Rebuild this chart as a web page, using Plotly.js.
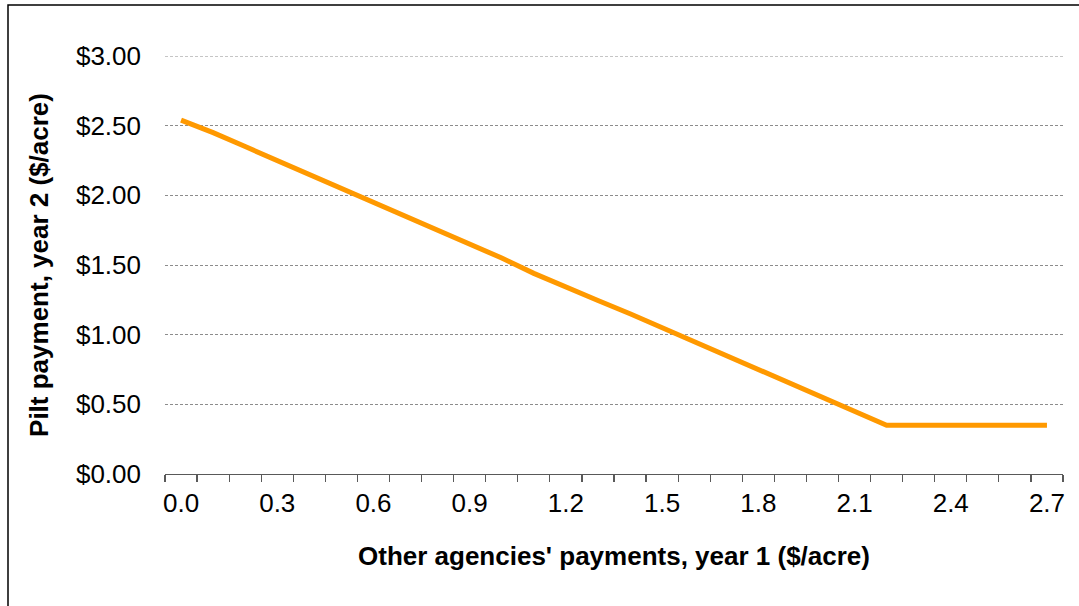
<!DOCTYPE html>
<html>
<head>
<meta charset="utf-8">
<script src="https://cdn.plot.ly/plotly-3.0.1.min.js"></script>
<style>
  html, body { margin: 0; padding: 0; background: #fff; overflow: hidden; }
  #chart { width: 1079px; height: 606px; }
</style>
</head>
<body>
<div id="chart"></div>
<script>
// Categories: other agencies' payments, year 1 ($/acre)
const otherPayments = [0.0, 0.1, 0.2, 0.3, 0.4, 0.5, 0.6, 0.7, 0.8, 0.9,
                       1.0, 1.1, 1.2, 1.3, 1.4, 1.5, 1.6, 1.7, 1.8, 1.9,
                       2.0, 2.1, 2.2, 2.3, 2.4, 2.5, 2.6, 2.7];
// Series: Pilt payment, year 2 ($/acre)
const piltPayment = [2.54, 2.45, 2.35, 2.25, 2.15, 2.05, 1.95, 1.85, 1.75, 1.65,
                     1.55, 1.44, 1.34, 1.245, 1.15, 1.05, 0.95, 0.85, 0.75, 0.65,
                     0.55, 0.45, 0.35, 0.35, 0.35, 0.35, 0.35, 0.35];
// Labelled ticks
const xTickLabels = ['0.0', '0.3', '0.6', '0.9', '1.2', '1.5', '1.8', '2.1', '2.4', '2.7'];
const xTickVals = xTickLabels.map(Number);
const yTickVals = [0, 0.5, 1.0, 1.5, 2.0, 2.5, 3.0];
const yMax = yTickVals[yTickVals.length - 1];

// Tick marks sit on the boundaries between categories (Excel category axis)
const step = 0.1;
const boundaries = otherPayments.map(v => +(v - step / 2).toFixed(3));
boundaries.push(+(otherPayments[otherPayments.length - 1] + step / 2).toFixed(3));
const xMin = boundaries[0], xMax = boundaries[boundaries.length - 1];

const W = 1079, H = 606;
const mL = 165, mR = 16, mT = 56, mB = 132;
const plotW = W - mL - mR, plotH = H - mT - mB;

const font = 'Liberation Sans, Arial, sans-serif';
const fs = 26;
const gridColor = '#8c8c8c';
const gridDash = '3px,2px';

const trace = {
  x: otherPayments,
  y: piltPayment,
  type: 'scatter',
  mode: 'lines',
  line: { color: '#FF9900', width: 5 },
  hoverinfo: 'x+y'
};

const bx = (8 - mL) / plotW;
const by = 1 + (mT - 5) / plotH;

const layout = {
  width: W,
  height: H,
  margin: { l: mL, r: mR, t: mT, b: mB },
  paper_bgcolor: '#ffffff',
  plot_bgcolor: '#ffffff',
  showlegend: false,
  font: { family: font, size: fs, color: '#000' },
  xaxis: {
    range: [xMin, xMax],
    tickmode: 'array',
    tickvals: xTickVals,
    ticktext: xTickLabels,
    ticks: '',
    ticklabelstandoff: 5,
    showgrid: false,
    zeroline: false,
    showline: true,
    linecolor: '#595959',
    linewidth: 1.3,
    tickfont: { family: font, size: fs, color: '#000' },
    minor: {
      tickmode: 'array',
      tickvals: boundaries,
      ticks: 'outside',
      ticklen: 7,
      tickwidth: 1.2,
      tickcolor: '#595959',
      showgrid: false
    },
    title: {
      text: "<b>Other agencies' payments, year 1 ($/acre)</b>",
      font: { family: font, size: fs, color: '#000' },
      standoff: 30
    }
  },
  yaxis: {
    range: [0, yMax],
    tickmode: 'array',
    tickvals: yTickVals,
    tickformat: '$.2f',
    ticks: '',
    ticklabelstandoff: 23,
    showline: false,
    zeroline: false,
    showgrid: true,
    gridcolor: gridColor,
    gridwidth: 1,
    griddash: gridDash,
    tickfont: { family: font, size: fs, color: '#000' },
    title: {
      text: '<b>Pilt payment, year 2 ($/acre)</b>',
      font: { family: font, size: fs, color: '#000' },
      standoff: 19
    }
  },
  shapes: [
    {
      // top gridline at the axis maximum (Plotly omits a gridline on the plot edge)
      type: 'line',
      xref: 'paper', yref: 'y',
      x0: 0, x1: 1, y0: yMax, y1: yMax,
      line: { color: gridColor, width: 1, dash: gridDash },
      layer: 'below'
    },
    {
      // chart-area frame (left and top edges visible)
      type: 'path',
      xref: 'paper', yref: 'paper',
      path: 'M ' + bx + ' -0.6 L ' + bx + ' ' + by + ' L 1.3 ' + by,
      line: { color: '#000000', width: 1.5 }
    }
  ]
};

Plotly.newPlot('chart', [trace], layout, { displayModeBar: false, staticPlot: true });
</script>
</body>
</html>
